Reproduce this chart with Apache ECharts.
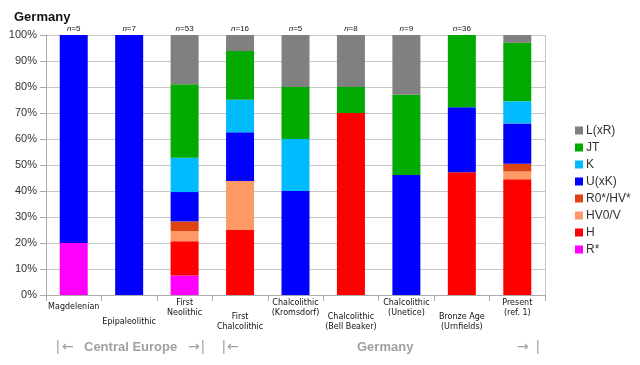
<!DOCTYPE html>
<html><head><meta charset="utf-8">
<script src="https://cdn.jsdelivr.net/npm/echarts@6/dist/echarts.min.js"></script>
<style>html,body{margin:0;padding:0;background:#fff}#c{width:640px;height:365px}</style>
</head><body><div id="c"></div>
<script>
const categories = ['Magdelenian','Epipaleolithic','First\nNeolithic','First\nChalcolithic','Chalcolithic\n(Kromsdorf)','Chalcolithic\n(Bell Beaker)','Chalcolithic\n(Unetice)','Bronze Age\n(Urnfields)','Present\n(ref. 1)'];
const sampleSizes = ['5','7','53','16','5','8','9','36',''];
const yTicks = [0,10,20,30,40,50,60,70,80,90,100];
// percentages per haplogroup, bottom to top
const R_star   = [20, 0, 7.5, 0, 0, 0, 0, 0, 0];
const H        = [0, 0, 13.2, 25, 0, 70, 0, 47.2, 44.5];
const HV0_V    = [0, 0, 3.8, 18.8, 0, 0, 0, 0, 3];
const R0_HV    = [0, 0, 3.8, 0, 0, 0, 0, 0, 3];
const U_xK     = [80, 100, 11.3, 18.8, 40, 0, 46.2, 25, 15.5];
const K        = [0, 0, 13.2, 12.5, 20, 0, 0, 0, 8.5];
const JT       = [0, 0, 28.3, 18.7, 20, 10, 30.8, 27.8, 22.5];
const L_xR     = [0, 0, 18.9, 6.2, 20, 20, 23, 0, 3];

const seriesDefs = [
  ['R*', R_star, '#ff00ff'],
  ['H', H, '#ff0000'],
  ['HV0/V', HV0_V, '#ff9966'],
  ['R0*/HV*', R0_HV, '#dd4411'],
  ['U(xK)', U_xK, '#0000ff'],
  ['K', K, '#00bbff'],
  ['JT', JT, '#00aa00'],
  ['L(xR)', L_xR, '#808080']
];
const legendOrder = ['L(xR)','JT','K','U(xK)','R0*/HV*','HV0/V','H','R*'];

function fmtLabel(v, i) {
  const lines = v.split('\n');
  let sp;
  if (i % 2 === 0) sp = lines.length === 1 ? 's4' : null;
  else sp = lines.length === 1 ? 's19' : 's14';
  const body = lines.map(t => '{t|' + t + '}').join('\n');
  return sp ? '{' + sp + '| }\n' + body : body;
}

const grey = '#a0a0a0';
const chart = echarts.init(document.getElementById('c'));
chart.setOption({
  animation: false,
  backgroundColor: '#fff',
  title: {text: 'Germany', left: 9, top: 6, textStyle: {fontFamily: 'Liberation Sans', fontWeight: 'bold', fontSize: 13, color: '#111'}},
  grid: {left: 46, right: 95, top: 35, bottom: 70},
  legend: {
    data: legendOrder, orient: 'vertical', left: 570, top: 119, itemWidth: 8, itemHeight: 8, itemGap: 4,
    icon: 'rect', textStyle: {fontFamily: 'Liberation Sans', fontSize: 12, color: '#333', padding: [0,0,0,-2], lineHeight: 13}
  },
  xAxis: [{
    type: 'category', data: categories, position: 'bottom',
    axisLine: {lineStyle: {color: '#aaa'}},
    axisTick: {show: true, length: 6, lineStyle: {color: '#aaa'}},
    axisLabel: {
      interval: 0, margin: 3, verticalAlign: 'top', fontFamily: 'DejaVu Sans', fontSize: 8, color: '#111', lineHeight: 10,
      formatter: fmtLabel,
      rich: {
        s4: {fontSize: 4, lineHeight: 4, height: 4},
        s14: {fontSize: 4, lineHeight: 14, height: 14},
        s19: {fontSize: 4, lineHeight: 19, height: 19},
        t: {fontFamily: 'DejaVu Sans', fontSize: 8, lineHeight: 10, color: '#111'}
      }
    }
  }, {
    type: 'category', data: sampleSizes, position: 'top',
    axisLine: {show: false}, axisTick: {show: false},
    axisLabel: {
      interval: 0, margin: 2,
      formatter: v => v ? '{i|n}{r|=' + v + '}' : '',
      rich: {i: {fontStyle: 'italic', fontFamily: 'Liberation Sans', fontSize: 8, color: '#111'}, r: {fontFamily: 'Liberation Sans', fontSize: 8, color: '#111'}}
    }
  }],
  yAxis: {
    type: 'value', min: 0, max: 100, interval: 10,
    axisLine: {show: true, lineStyle: {color: '#aaa'}},
    axisTick: {show: true, length: 6, lineStyle: {color: '#aaa'}},
    splitLine: {lineStyle: {color: '#c8c8c8'}},
    axisLabel: {formatter: v => yTicks.includes(v) ? v + '%' : '', fontFamily: 'Liberation Sans', fontSize: 11, color: '#333', margin: 9}
  },
  series: seriesDefs.map(([name, data, color]) => ({
    name, type: 'bar', stack: 'all', data, barWidth: 28, itemStyle: {color}, xAxisIndex: 0
  })).concat([{
    type: 'bar', xAxisIndex: 1, data: sampleSizes.map(() => 0), silent: true, barWidth: 0
  }]),
  graphic: [
    {type: 'line', shape: {x1: 545.5, y1: 35, x2: 545.5, y2: 295}, style: {stroke: '#c8c8c8', lineWidth: 1}},
    {type: 'text', x: 56, y: 347, style: {text: '|', font: '14px "Liberation Sans"', fill: grey, verticalAlign: 'middle'}},
    {type: 'text', x: 62, y: 347, style: {text: '\u2190', font: '14px "DejaVu Sans"', fill: grey, verticalAlign: 'middle'}},
    {type: 'text', x: 84, y: 347, style: {text: 'Central Europe', font: 'bold 13px "Liberation Sans"', fill: grey, verticalAlign: 'middle'}},
    {type: 'text', x: 188, y: 347, style: {text: '\u2192', font: '14px "DejaVu Sans"', fill: grey, verticalAlign: 'middle'}},
    {type: 'text', x: 201, y: 347, style: {text: '|', font: '14px "Liberation Sans"', fill: grey, verticalAlign: 'middle'}},
    {type: 'text', x: 222, y: 347, style: {text: '|', font: '14px "Liberation Sans"', fill: grey, verticalAlign: 'middle'}},
    {type: 'text', x: 227, y: 347, style: {text: '\u2190', font: '14px "DejaVu Sans"', fill: grey, verticalAlign: 'middle'}},
    {type: 'text', x: 357, y: 347, style: {text: 'Germany', font: 'bold 13px "Liberation Sans"', fill: grey, verticalAlign: 'middle'}},
    {type: 'text', x: 517, y: 347, style: {text: '\u2192', font: '14px "DejaVu Sans"', fill: grey, verticalAlign: 'middle'}},
    {type: 'text', x: 536, y: 347, style: {text: '|', font: '14px "Liberation Sans"', fill: grey, verticalAlign: 'middle'}}
  ]
});
</script></body></html>
